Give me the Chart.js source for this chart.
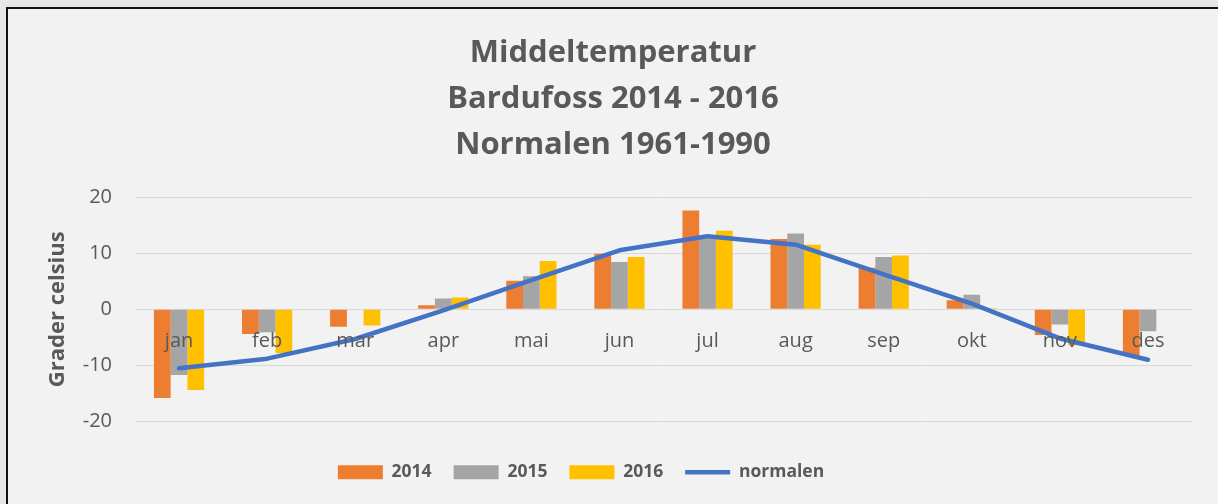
<!DOCTYPE html>
<html>
<head>
<meta charset="utf-8">
<script src="https://cdn.jsdelivr.net/npm/chart.js@4.4.1/dist/chart.umd.min.js"></script>
<style>
  html, body { margin: 0; padding: 0; background: #e6e6e6; width: 1218px; height: 504px; overflow: hidden; }
  #frame { position: absolute; left: 6px; top: 7px; width: 1230px; height: 520px; background: #f2f2f2; border-left: 2px solid #111; border-top: 2px solid #111; }
  #wrap { position: absolute; left: 0; top: 0; width: 1218px; height: 504px; }
</style>
</head>
<body>
<div id="frame"></div>
<div id="wrap"><canvas id="c" width="1218" height="504"></canvas></div>
<script>
const categories = ['jan','feb','mar','apr','mai','jun','jul','aug','sep','okt','nov','des'];
const values2014 = [-15.8, -4.4, -3.1, 0.7, 5.1, 9.9, 17.6, 12.5, 7.4, 1.6, -4.6, -8.2];
const values2015 = [-11.7, -4.1, 0.0, 1.9, 5.9, 8.4, 12.6, 13.5, 9.3, 2.6, -2.7, -3.9];
const values2016 = [-14.4, -7.8, -2.9, 2.1, 8.6, 9.3, 14.0, 11.5, 9.6, 0.2, -6.4, null];
const normalen = [-10.5, -8.8, -5.3, -0.2, 5.2, 10.5, 13.0, 11.5, 6.2, 1.0, -5.2, -9.0];
const seriesNames = ['2014', '2015', '2016', 'normalen'];
const titleLines = ['Middeltemperatur', 'Bardufoss 2014 - 2016', 'Normalen 1961-1990'];
const yAxisTitle = 'Grader celsius';

const TXT = '#595959';
const FONT = "'Open Sans', sans-serif";

function barSet(label, data, color) {
  return {
    type: 'bar', label, data,
    backgroundColor: color, borderWidth: 0,
    categoryPercentage: 0.57, barPercentage: 1.0,
    pointStyle: 'rect', order: 1
  };
}

// shift the title / legend centring boxes to match the original frame
const boxShift = {
  id: 'boxShift',
  afterLayout(chart) {
    if (chart.titleBlock) { chart.titleBlock.left += 34; }
    if (chart.legend) { chart.legend.right -= 30; }
  }
};

new Chart(document.getElementById('c'), {
  data: {
    labels: categories,
    datasets: [
      barSet(seriesNames[0], values2014, '#ED7D31'),
      barSet(seriesNames[1], values2015, '#A5A5A5'),
      barSet(seriesNames[2], values2016, '#FFC000'),
      {
        type: 'line', label: seriesNames[3], data: normalen,
        borderColor: '#4472C4', backgroundColor: '#4472C4',
        borderWidth: 4.5, borderCapStyle: 'round', borderJoinStyle: 'round',
        pointRadius: 0, pointHoverRadius: 0, pointStyle: 'line',
        tension: 0, order: 0
      }
    ]
  },
  plugins: [boxShift],
  options: {
    responsive: false,
    animation: false,
    devicePixelRatio: 1,
    layout: { padding: { left: 0, right: 26, top: 0, bottom: 13 } },
    plugins: {
      tooltip: { enabled: false },
      title: {
        display: true,
        text: titleLines,
        color: TXT,
        font: { family: FONT, size: 31, weight: 'bold', lineHeight: 1.484 },
        padding: { top: 30, bottom: 29 }
      },
      legend: {
        display: true,
        position: 'bottom',
        title: { display: true, text: '', padding: 0, font: { size: 20, lineHeight: 1 } },
        labels: {
          usePointStyle: true,
          pointStyleWidth: 45,
          boxHeight: 14,
          padding: 22,
          color: TXT,
          font: { family: FONT, size: 17.5, weight: 'bold' },
          sort: (a, b) => a.datasetIndex - b.datasetIndex
        }
      }
    },
    scales: {
      x: {
        type: 'category',
        position: { y: 0 },
        grid: { display: false, drawTicks: false },
        border: { display: false },
        ticks: { z: 1, color: TXT, font: { family: FONT, size: 20 }, padding: 20, maxRotation: 0, autoSkip: false }
      },
      y: {
        type: 'linear',
        position: 'left',
        min: -20, max: 20,
        afterFit(scale) { scale.width = 135; },
        grid: { color: '#d9d9d9', lineWidth: 1, drawTicks: false },
        border: { display: false },
        ticks: { stepSize: 10, color: TXT, font: { family: FONT, size: 20 }, padding: 23 },
        title: {
          display: true, text: yAxisTitle, color: TXT,
          font: { family: FONT, size: 22, weight: 'bold', lineHeight: 1.2 },
          padding: { top: 45, bottom: 0 }
        }
      }
    }
  }
});
</script>
</body>
</html>
